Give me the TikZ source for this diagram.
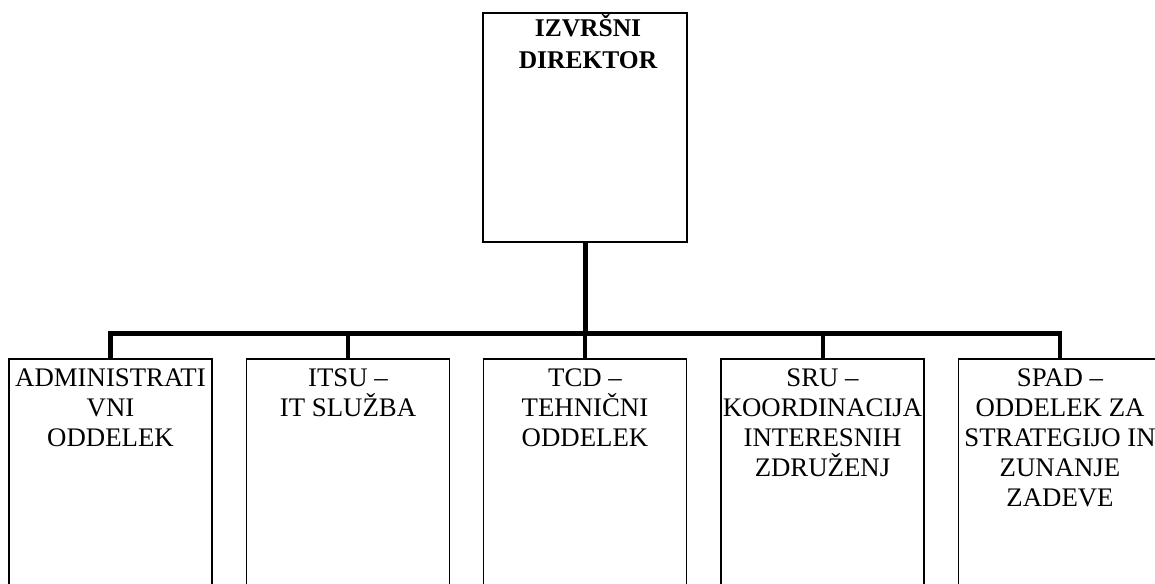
\documentclass[tikz,border=0pt]{standalone}
\usepackage{fontspec}
\setmainfont{Liberation Serif}
\begin{document}
\begin{tikzpicture}[x=1pt,y=-1pt,
  box/.style={draw, line width=1.6pt, rectangle, minimum width=203pt, minimum height=300pt, anchor=north, inner sep=0pt},
  topbox/.style={draw, line width=1.6pt, rectangle, minimum width=204pt, minimum height=229pt, anchor=north, inner sep=0pt},
  lbl/.style={align=center, inner sep=0pt, anchor=base, font=\fontsize{26.8}{30}\selectfont},
  toplbl/.style={align=center, inner sep=0pt, anchor=base, font=\fontsize{25.5}{32}\selectfont\bfseries},
  trunk/.style={line width=5pt},
  barline/.style={line width=4.6pt, line join=miter},
  stub/.style={line width=4pt}]
\useasboundingbox (0,0) rectangle (1155,583);
\clip (0,0) rectangle (1155,583);
% top box
\node[topbox] (dir) at (585,12) {};
\node[toplbl] (dirt) at (588,69) {IZVRŠNI\\DIREKTOR};
% bottom boxes
\node[box] (b1) at (110.5,358) {};
\node[box] (b2) at (348,358) {};
\node[box] (b3) at (585,358) {};
\node[box] (b4) at (822.5,358) {};
\node[box] (b5) at (1060,358) {};
% labels: anchor base = baseline of last line (first baseline at y=386, 30pt per line)
\node[lbl] (t1) at (110.5,446) {ADMINISTRATI\\VNI\\ODDELEK};
\node[lbl] (t2) at (348,416) {ITSU –\\IT SLUŽBA};
\node[lbl] (t3) at (585,446) {TCD –\\TEHNIČNI\\ODDELEK};
\node[lbl] (t4) at (822.5,476) {SRU –\\KOORDINACIJA\\INTERESNIH\\ZDRUŽENJ};
\node[lbl] (t5) at (1060,506) {SPAD –\\ODDELEK ZA\\STRATEGIJO IN\\ZUNANJE\\ZADEVE};
% connectors
\coordinate (bar) at (585,333.5);
\draw[trunk] (dir.south) -- (dir.south |- bar);
\draw[barline] (b1.north) -- (b1.north |- bar) -- (b5.north |- bar) -- (b5.north);
\draw[stub] (b2.north) -- (b2.north |- bar);
\draw[stub] (b3.north) -- (b3.north |- bar);
\draw[stub] (b4.north) -- (b4.north |- bar);
\end{tikzpicture}
\end{document}
